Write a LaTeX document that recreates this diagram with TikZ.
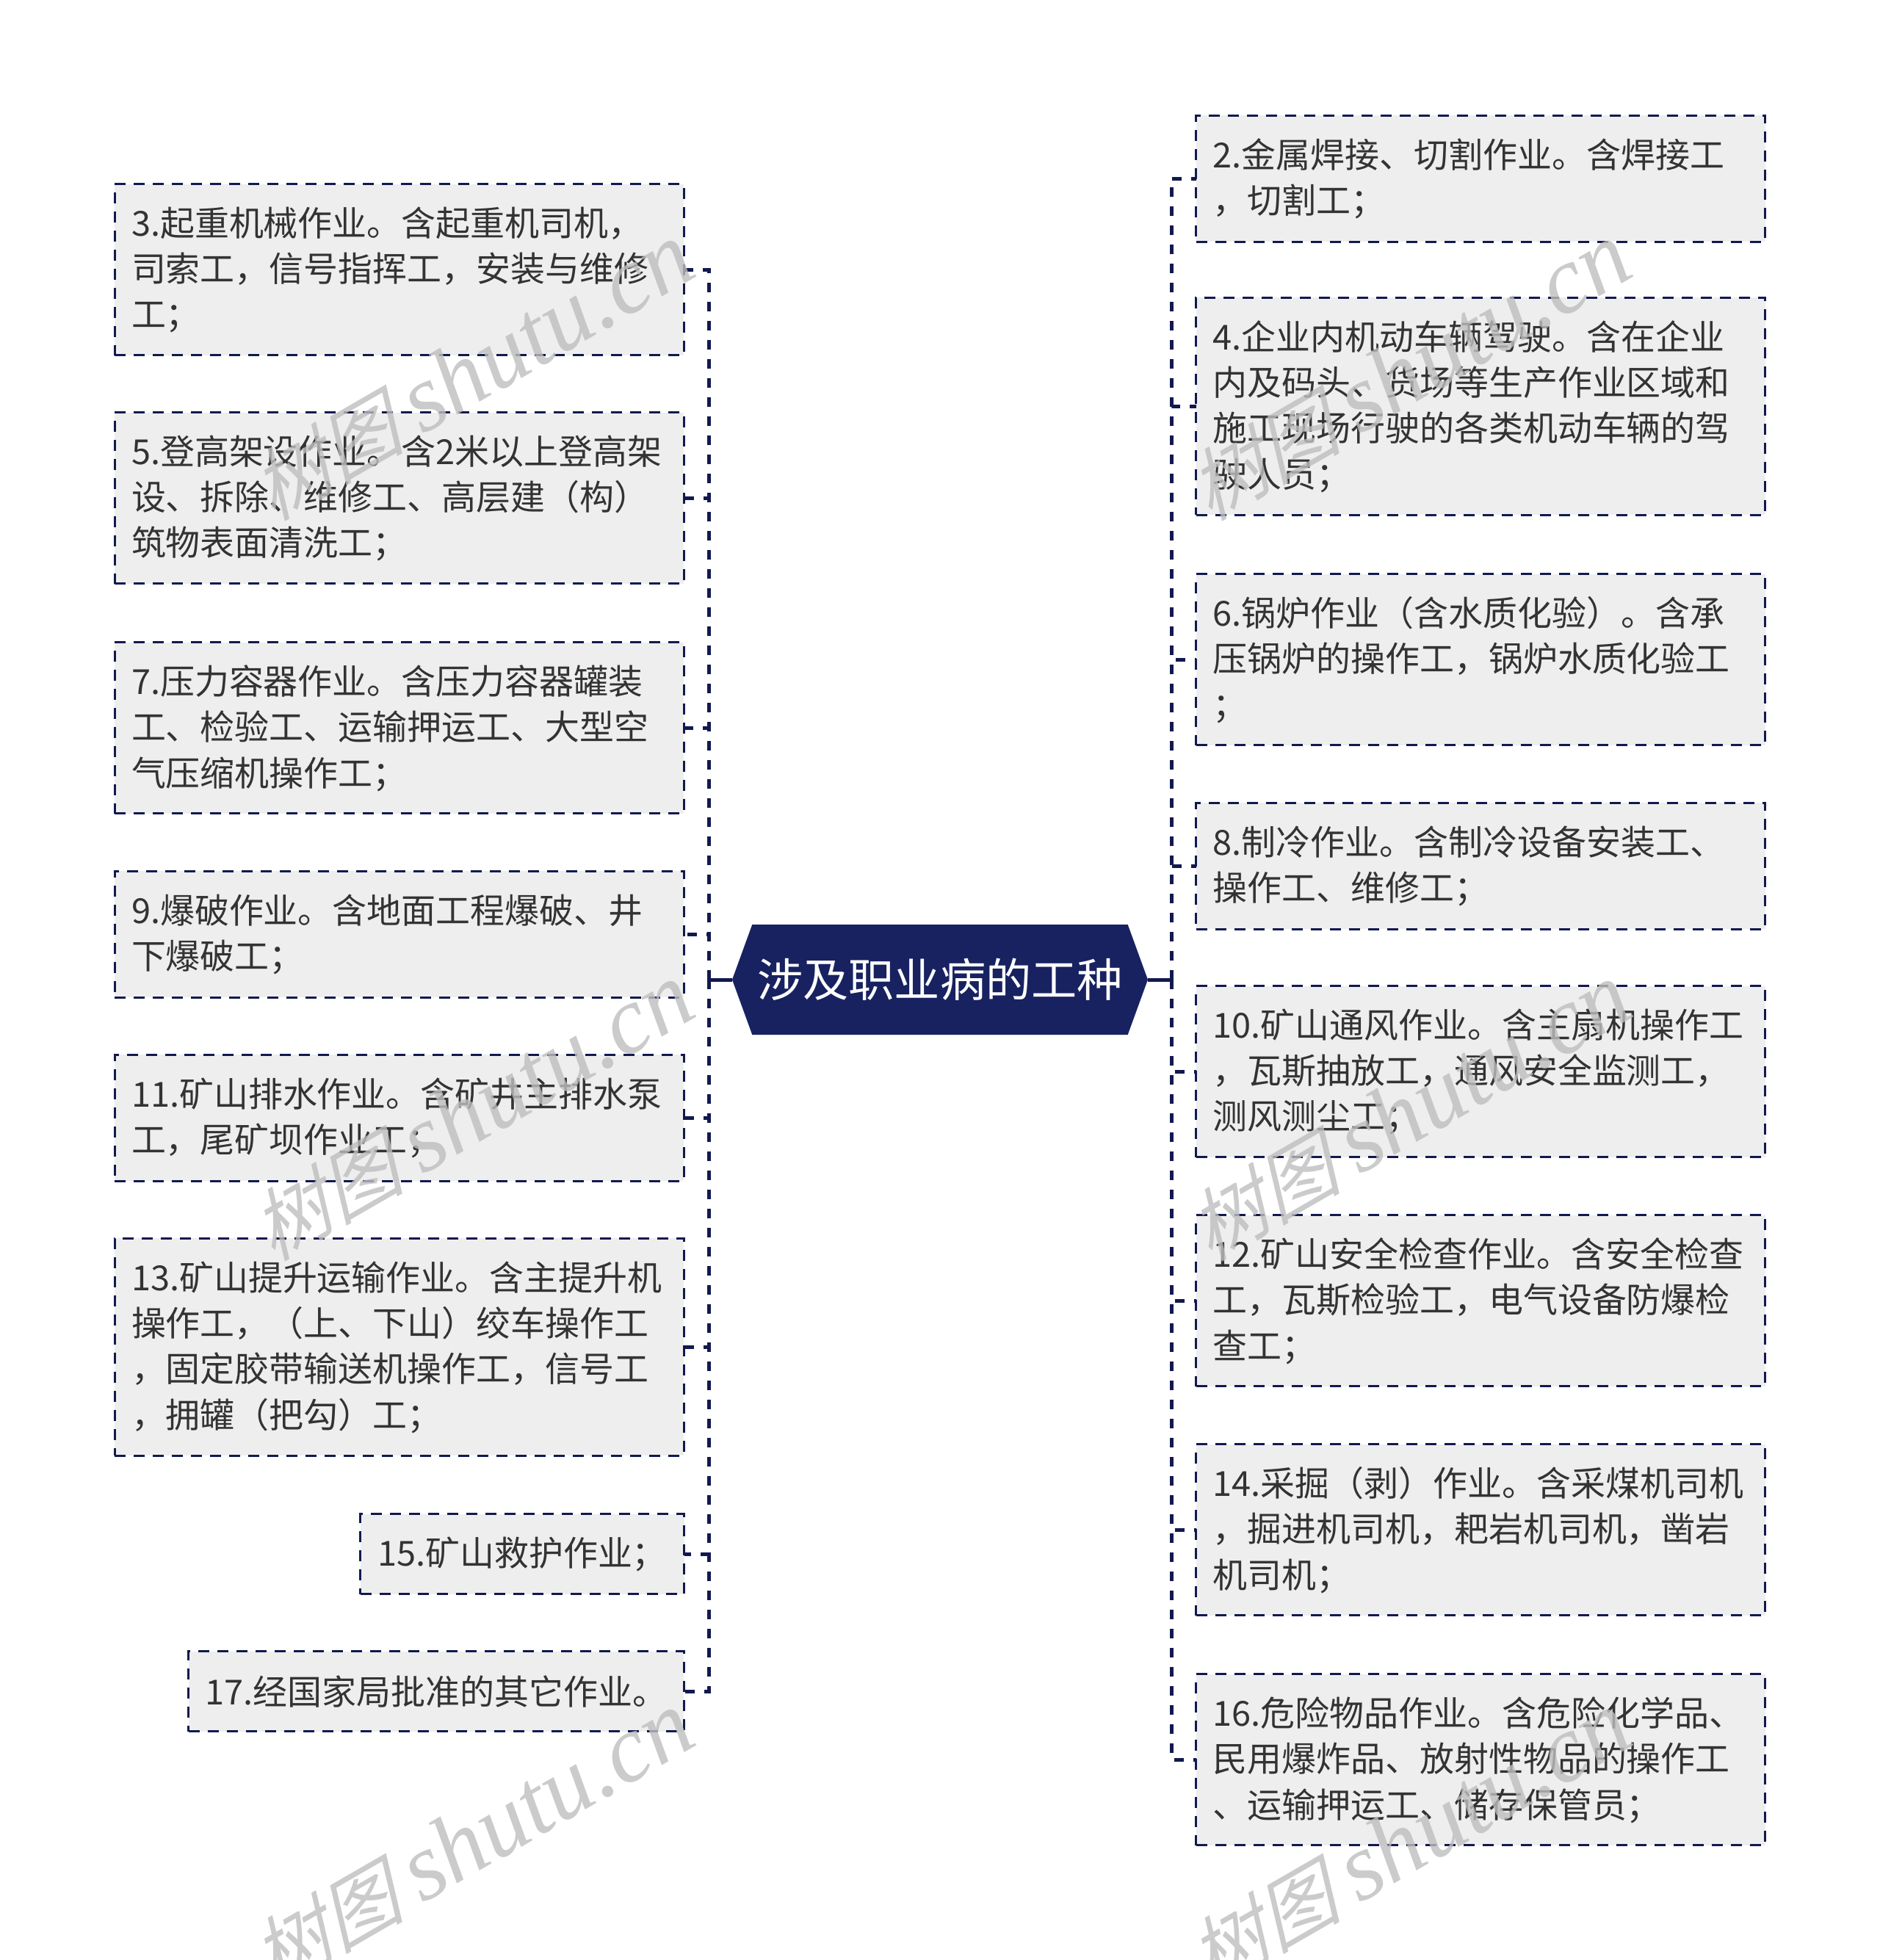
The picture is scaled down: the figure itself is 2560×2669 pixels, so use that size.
\documentclass[tikz,border=0pt]{standalone}
\usepackage{fontspec}
\setmainfont{Noto Sans CJK SC}
\newfontfamily\markcjk[FakeSlant=0.3]{Noto Sans CJK SC}
\newfontfamily\marklatin{Liberation Serif}
\usetikzlibrary{shapes.symbols}
\definecolor{hubblue}{HTML}{182260}
\definecolor{edgeblue}{HTML}{12194F}
\definecolor{boxgray}{HTML}{EEEEEE}
\definecolor{inkgray}{HTML}{333333}
\definecolor{markgray}{HTML}{BEBEBE}
\tikzset{
  hub/.style={signal,signal to=east and west,signal pointer angle=140,fill=hubblue,
    minimum width=56.6mm,minimum height=15mm,inner sep=0pt,outer sep=0pt,text=white,
    font=\fontsize{17.7pt}{20pt}\selectfont},
  item/.style={draw=edgeblue,fill=boxgray,line width=.3mm,dash pattern=on 1.5mm off 1.1mm,
    text=inkgray,align=left,inner xsep=2.3mm,inner ysep=0pt,outer sep=0pt,
    font=\fontsize{13.36pt}{17.75pt}\selectfont},
  wide/.style={item,text width=72.9mm,minimum width=77.5mm,
    execute at end node={\par\vspace*{-.1mm}}},
  lines1/.style={minimum height=10.9mm},
  lines2/.style={minimum height=17.2mm},
  lines3/.style={minimum height=23.3mm},
  lines4/.style={minimum height=29.6mm},
  stub/.style={draw=edgeblue,line width=.5mm},
  link/.style={draw=edgeblue,line width=.5mm,dash pattern=on 1.3mm off 1.3mm},
  stamp/.style={rotate=30,text=markgray,opacity=.8,inner sep=0pt}
}
\newcommand{\stamptext}{{\markcjk\fontsize{30pt}{30pt}\selectfont 树图}\hspace*{7pt}{\marklatin\itshape\fontsize{37pt}{40pt}\selectfont shutu.cn}}
\begin{document}
\begin{tikzpicture}[x=.1mm,y=-.1mm]
  \clip (0,0) rectangle (2560,2669);
  \fill[white] (0,0) rectangle (2560,2669);
  \node[hub] (hub) at (1280,1334) {涉及职业病的工种};
  \coordinate (trunkl) at (965,1334);
  \coordinate (trunkr) at (1595,1334);
  % left side
  \node[wide,lines3] (n3) at (543.5,367) {3.起重机械作业。含起重机司机，\\司索工，信号指挥工，安装与维修\\工；};
  \node[wide,lines3] (n5) at (543.5,678) {5.登高架设作业。含2米以上登高架\\设、拆除、维修工、高层建（构）\\筑物表面清洗工；};
  \node[wide,lines3] (n7) at (543.5,991) {7.压力容器作业。含压力容器罐装\\工、检验工、运输押运工、大型空\\气压缩机操作工；};
  \node[wide,lines2] (n9) at (543.5,1272) {9.爆破作业。含地面工程爆破、井\\下爆破工；};
  \node[wide,lines2] (n11) at (543.5,1522) {11.矿山排水作业。含矿井主排水泵\\工，尾矿坝作业工；};
  \node[wide,lines4] (n13) at (543.5,1834) {13.矿山提升运输作业。含主提升机\\操作工，（上、下山）绞车操作工\\，固定胶带输送机操作工，信号工\\，拥罐（把勾）工；};
  \node[item,lines1,minimum width=44.1mm] (n15) at (711,2116) {15.矿山救护作业；};
  \node[item,lines1,minimum width=67.4mm] (n17) at (594,2303) {17.经国家局批准的其它作业。};
  % right side
  \node[wide,lines2] (n2) at (2016,243) {2.金属焊接、切割作业。含焊接工\\，切割工；};
  \node[wide,lines4] (n4) at (2016,553) {4.企业内机动车辆驾驶。含在企业\\内及码头、货场等生产作业区域和\\施工现场行驶的各类机动车辆的驾\\驶人员；};
  \node[wide,lines3] (n6) at (2016,898) {6.锅炉作业（含水质化验）。含承\\压锅炉的操作工，锅炉水质化验工\\；};
  \node[wide,lines2] (n8) at (2016,1179) {8.制冷作业。含制冷设备安装工、\\操作工、维修工；};
  \node[wide,lines3] (n10) at (2016,1459) {10.矿山通风作业。含主扇机操作工\\，瓦斯抽放工，通风安全监测工，\\测风测尘工；};
  \node[wide,lines3] (n12) at (2016,1771) {12.矿山安全检查作业。含安全检查\\工，瓦斯检验工，电气设备防爆检\\查工；};
  \node[wide,lines3] (n14) at (2016,2083) {14.采掘（剥）作业。含采煤机司机\\，掘进机司机，耙岩机司机，凿岩\\机司机；};
  \node[wide,lines3] (n16) at (2016,2396) {16.危险物品作业。含危险化学品、\\民用爆炸品、放射性物品的操作工\\、运输押运工、储存保管员；};
  \begin{scope}
    \draw[stub] (hub.west) to (trunkl);
    \draw[stub] (hub.east) to (trunkr);
    \draw[link] (trunkl) |- (n3.east);
    \draw[link] (trunkl) |- (n5.east);
    \draw[link] (trunkl) |- (n7.east);
    \draw[link] (trunkl) |- (n9.east);
    \draw[link] (trunkl) |- (n11.east);
    \draw[link] (trunkl) |- (n13.east);
    \draw[link] (trunkl) |- (n15.east);
    \draw[link] (trunkl) |- (n17.east);
    \draw[link] (trunkr) |- (n2.west);
    \draw[link] (trunkr) |- (n4.west);
    \draw[link] (trunkr) |- (n6.west);
    \draw[link] (trunkr) |- (n8.west);
    \draw[link] (trunkr) |- (n10.west);
    \draw[link] (trunkr) |- (n12.west);
    \draw[link] (trunkr) |- (n14.west);
    \draw[link] (trunkr) |- (n16.west);
  \end{scope}
  % stamps
  \node[stamp] (s1) at (642,507) {\stamptext};
  \node[stamp] (s2) at (642,1515) {\stamptext};
  \node[stamp] (s3) at (642,2507) {\stamptext};
  \node[stamp] (s4) at (1918,507) {\stamptext};
  \node[stamp] (s5) at (1918,1515) {\stamptext};
  \node[stamp] (s6) at (1918,2507) {\stamptext};
\end{tikzpicture}
\end{document}
